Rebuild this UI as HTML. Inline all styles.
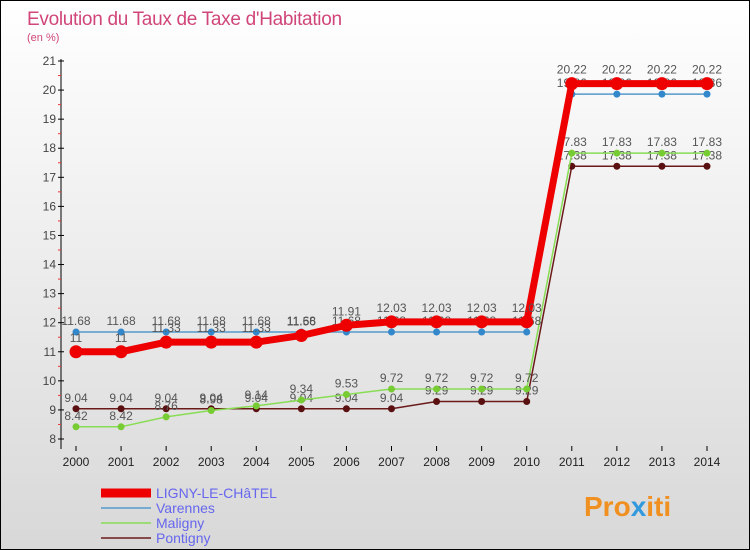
<!DOCTYPE html>
<html><head><meta charset="utf-8"><style>
body{margin:0}
#c{width:750px;height:550px;position:relative;font-family:"Liberation Sans",sans-serif;overflow:hidden;border:1px solid #000;box-sizing:border-box;background:linear-gradient(#fff,#d8d8d8)}
svg text{font-family:"Liberation Sans",sans-serif}
</style></head><body>
<div id="c">
<svg id="s" width="750" height="550">
<text x="26" y="24" font-size="19" fill="#d0467a" letter-spacing="-0.3">Evolution du Taux de Taxe d'Habitation</text>
<text x="26" y="40" font-size="11" fill="#d0467a">(en %)</text>
<text x="583" y="515" font-size="28" font-weight="bold" fill="#f09020">Pro<tspan fill="#3399dd">x</tspan>iti</text>
</svg></div>
<script>
const years=[2000,2001,2002,2003,2004,2005,2006,2007,2008,2009,2010,2011,2012,2013,2014];
const yTicks=[8,9,10,11,12,13,14,15,16,17,18,19,20,21];
const ligny=[11,11,11.33,11.33,11.33,11.56,11.91,12.03,12.03,12.03,12.03,20.22,20.22,20.22,20.22];
const varennes=[11.68,11.68,11.68,11.68,11.68,11.68,11.68,11.68,11.68,11.68,11.68,19.86,19.86,19.86,19.86];
const maligny=[8.42,8.42,8.76,8.98,9.14,9.34,9.53,9.72,9.72,9.72,9.72,17.83,17.83,17.83,17.83];
const pontigny=[9.04,9.04,9.04,9.04,9.04,9.04,9.04,9.04,9.29,9.29,9.29,17.38,17.38,17.38,17.38];
const names=['LIGNY-LE-CHâTEL','Varennes','Maligny','Pontigny'];
const NS='http://www.w3.org/2000/svg',s=document.getElementById('s');
const X=i=>75+i*(706-75)/(years.length-1);
const Y=v=>438-(v-8)*(438-60)/13;
function mk(t,a){const e=document.createElementNS(NS,t);for(const k in a)e.setAttribute(k,a[k]);s.appendChild(e);return e;}
let ax=mk('line',{x1:60,y1:58,x2:60,y2:448,stroke:'#000'});


yTicks.forEach(v=>{const t=mk('text',{x:55,y:Y(v)+4,'font-size':12,fill:'#444','text-anchor':'end'});t.textContent=v;


mk('line',{x1:57,x2:63,y1:Y(v),y2:Y(v),stroke:'#000'});
if(v<21)mk('line',{x1:57,x2:60,y1:Y(v+0.5),y2:Y(v+0.5),stroke:'#e33'});});
years.forEach((y,i)=>{mk('line',{x1:X(i),x2:X(i),y1:445,y2:450,stroke:'#000'});
const t=mk('text',{x:X(i),y:465,'font-size':12,fill:'#222','text-anchor':'middle'});t.textContent=y;

});
const series=[[pontigny,'#6b1a1a',1.5,3.5],[maligny,'#88dd55',1.5,3.5],[varennes,'#5599cc',1.5,3.5],[ligny,'#ee0000',7,6.5]];
const dotCol=['#5a1010','#77cc33','#3388cc','#ee0000'];
series.forEach(([d,c,w,r],k)=>{
const p=mk('polyline',{points:d.map((v,i)=>X(i)+','+Y(v)).join(' '),fill:'none',stroke:c,'stroke-width':w});


d.forEach((v,i)=>{const q=mk('circle',{cx:X(i),cy:Y(v),r:r,fill:dotCol[k]});


const t=mk('text',{x:X(i),y:Y(v)-(k==3?10:7),'font-size':12,fill:'#555','text-anchor':'middle'});t.textContent=String(v);

});});
const lc=['#ee0000','#5599cc','#88dd55','#6b1a1a'],lw=[9,1.5,1.5,1.5];
names.forEach((n,i)=>{const y=492+i*15;
const l=mk('line',{x1:100,x2:150,y1:y,y2:y,stroke:lc[i],'stroke-width':lw[i]});


const t=mk('text',{x:155,y:y+5,'font-size':14,fill:'#6666ee'});t.textContent=n;

});
</script>
</body></html>
